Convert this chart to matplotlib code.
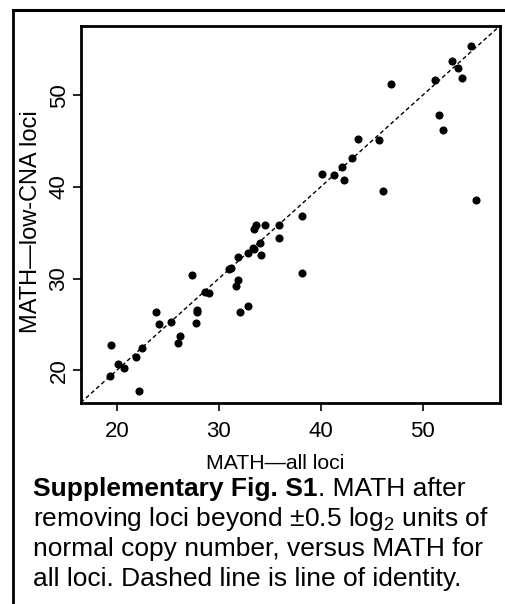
import matplotlib
matplotlib.use('Agg')
import matplotlib.pyplot as plt
from matplotlib.lines import Line2D

plt.rcParams['font.family'] = ['Liberation Sans', 'DejaVu Sans']

# MATH computed on all loci (x) vs on low-CNA loci only (y)
math_all = [54.8, 52.9, 53.5, 53.9, 51.2, 46.9, 51.6, 52.0, 43.7, 45.7,
            43.1, 42.1, 42.3, 40.1, 41.3, 46.1, 55.2, 38.2, 35.9, 34.5,
            33.7, 33.5, 35.9, 34.0, 33.4, 33.5, 32.9, 34.1, 31.9, 31.0,
            31.2, 27.4, 38.2, 31.9, 31.7, 28.6, 29.0, 23.8, 27.9, 27.9,
            32.1, 32.9, 24.1, 25.3, 27.8, 26.2, 26.0, 19.4, 22.5, 21.9,
            20.1, 20.7, 19.3, 22.2]
math_low = [55.4, 53.7, 53.0, 51.9, 51.7, 51.2, 47.9, 46.2, 45.2, 45.1,
            43.2, 42.2, 40.8, 41.4, 41.3, 39.6, 38.6, 36.8, 35.9, 35.8,
            35.9, 35.4, 34.4, 33.9, 33.3, 33.2, 32.8, 32.6, 32.3, 31.0,
            31.1, 30.4, 30.6, 29.8, 29.2, 28.5, 28.4, 26.3, 26.6, 26.3,
            26.4, 27.0, 25.0, 25.3, 25.1, 23.7, 23.0, 22.7, 22.4, 21.4,
            20.7, 20.2, 19.4, 17.7]
xticks = [20, 30, 40, 50]
yticks = [20, 30, 40, 50]
lims = (16.45, 57.6)

W, H = 506, 604
fig = plt.figure(figsize=(W / 100, H / 100), dpi=100)
ax = fig.add_axes([80.7 / W, 1 - 402.7 / H, (500 - 80.7) / W, (402.7 - 25.7) / H])

ax.scatter(math_all, math_low, s=34, color='black', zorder=3, linewidths=0)
ax.plot(lims, lims, color='black', linestyle=(0, (3, 2)), linewidth=1.0)
ax.set_xlim(lims)
ax.set_ylim(lims)

ax.set_xticks(xticks)
ax.set_yticks(yticks)
ax.tick_params(direction='out', length=6, width=1.2, labelsize=16)
ax.tick_params(axis='x', pad=7)
ax.tick_params(axis='y', pad=2)
for lab in ax.get_yticklabels():
    lab.set_rotation(90)
    lab.set_va('center')
for sp in ax.spines.values():
    sp.set_linewidth(2)

ax.set_xlabel('MATH\u2014all loci', fontsize=15.3)
ax.set_ylabel('MATH\u2014low-CNA loci', fontsize=17)
ax.xaxis.set_label_coords(0.465, -0.137)
ax.yaxis.set_label_coords(-0.093, 0.48)

# outer frame (left and top edge visible)
fig.add_artist(Line2D([13 / W, 13 / W], [0, 1 - 9.5 / H], color='black', linewidth=2))
fig.add_artist(Line2D([13 / W, 1], [1 - 9.5 / H, 1 - 9.5 / H], color='black', linewidth=2.2))

# caption
cx = 33 / W
fs = 19
t1 = fig.text(cx, 1 - 496 / H, 'Supplementary Fig. S1', fontsize=fs, fontweight='bold',
              va='baseline')
ax.annotate('. MATH after', xy=(1, 0), xycoords=t1, xytext=(0, 0),
            textcoords='offset points', fontsize=fs, va='bottom', ha='left',
            annotation_clip=False)
lines = ['removing loci beyond \u00b10.5 log$\\mathregular{_2}$ units of',
         'normal copy number, versus MATH for',
         'all loci. Dashed line is line of identity.']
for i, s in enumerate(lines):
    fig.text(cx, 1 - (526 + 30 * i) / H, s, fontsize=fs, va='baseline')

fig.savefig('out.png', dpi=100)
